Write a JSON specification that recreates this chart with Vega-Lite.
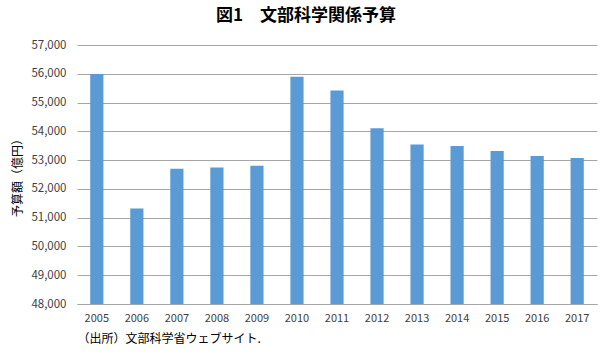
{
  "$schema": "https://vega.github.io/schema/vega-lite/v6.json",
  "autosize": {"type": "none"},
  "width": 520,
  "height": 259,
  "padding": {"left": 77, "top": 45, "right": 11, "bottom": 57},
  "background": "white",
  "config": {
    "font": "Noto Sans CJK JP",
    "view": {"stroke": null}
  },
  "title": {
    "text": "図1　文部科学関係予算",
    "fontSize": 17,
    "fontWeight": "bold",
    "color": "#000000",
    "anchor": "middle",
    "dx": -31,
    "offset": 14
  },
  "data": {
    "values": [
      {"year": "2005", "budget": 55990},
      {"year": "2006", "budget": 51320},
      {"year": "2007", "budget": 52700},
      {"year": "2008", "budget": 52740},
      {"year": "2009", "budget": 52800},
      {"year": "2010", "budget": 55900},
      {"year": "2011", "budget": 55420},
      {"year": "2012", "budget": 54110},
      {"year": "2013", "budget": 53540},
      {"year": "2014", "budget": 53490},
      {"year": "2015", "budget": 53320},
      {"year": "2016", "budget": 53140},
      {"year": "2017", "budget": 53070}
    ]
  },
  "mark": {"type": "bar", "color": "#5b9bd5"},
  "encoding": {
    "x": {
      "field": "year",
      "type": "nominal",
      "scale": {"paddingInner": 0.67, "paddingOuter": 0.33},
      "axis": {
        "title": "（出所）文部科学省ウェブサイト.",
        "titleAnchor": "start",
        "titleAlign": "left",
        "titleFontSize": 12,
        "titleFontWeight": "normal",
        "titleColor": "#000000",
        "titlePadding": 10,
        "labelAngle": 0,
        "labelFontSize": 11,
        "labelColor": "#404040",
        "labelPadding": 8,
        "ticks": false,
        "domainColor": "#a6a6a6"
      }
    },
    "y": {
      "field": "budget",
      "type": "quantitative",
      "scale": {"domain": [48000, 57000], "zero": false, "nice": false},
      "axis": {
        "title": "予算額（億円）",
        "titleFontSize": 12,
        "titleFontWeight": "normal",
        "titleColor": "#000000",
        "titlePadding": 6,
        "values": [48000, 49000, 50000, 51000, 52000, 53000, 54000, 55000, 56000, 57000],
        "format": ",.0f",
        "labelFontSize": 11.5,
        "labelColor": "#404040",
        "labelPadding": 11,
        "ticks": false,
        "domain": false,
        "grid": true,
        "gridColor": "#a6a6a6"
      }
    },
    "y2": {"datum": 48000}
  }
}
